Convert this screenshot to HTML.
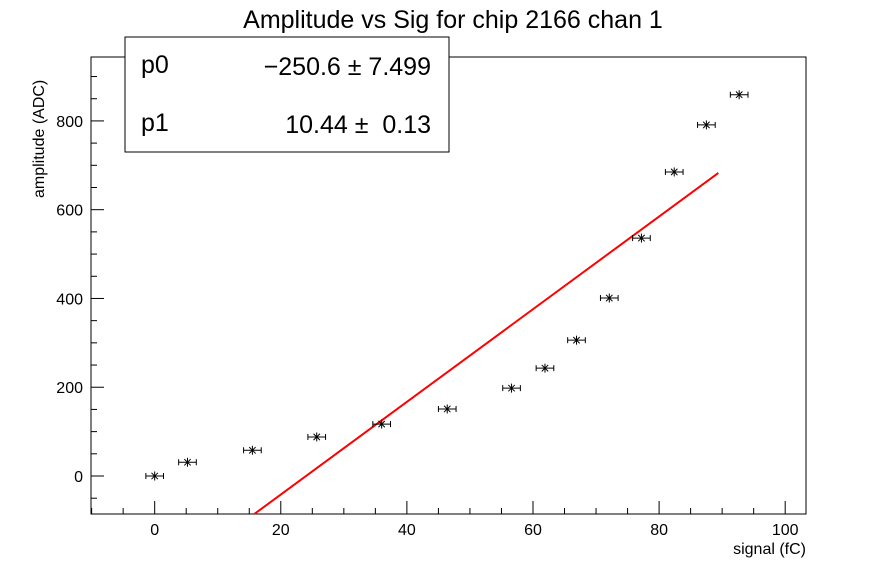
<!DOCTYPE html>
<html><head><meta charset="utf-8"><style>
body{margin:0;background:#fff;}
svg text{font-family:"Liberation Sans",Arial,sans-serif;}
</style></head><body>
<svg id="c" width="896" height="572" viewBox="0 0 896 572" xmlns="http://www.w3.org/2000/svg">
<rect width="896" height="572" fill="#fff"/>
<text x="453" y="28" font-size="25" text-anchor="middle">Amplitude vs Sig for chip 2166 chan 1</text>
<g id="axes"></g>
<g id="plot"></g>
<text x="806" y="554" font-size="16" text-anchor="end">signal (fC)</text>
<text transform="translate(44,198) rotate(-90)" font-size="16" text-anchor="start" x="0" y="0">amplitude (ADC)</text>
<g>
<rect x="125" y="37" width="324" height="115" fill="#fff" stroke="#000" stroke-width="1"/>
<text x="141" y="73" font-size="25">p0</text>
<text x="431" y="75" font-size="25" text-anchor="end">−250.6 ± 7.499</text>
<text x="141" y="131" font-size="25">p1</text>
<text x="431" y="133" font-size="25" text-anchor="end" xml:space="preserve">10.44 ±  0.13</text>
</g>
</svg>
<script>
const xs=[0,5.2,15.5,25.7,36,46.4,56.6,61.9,66.9,72.1,77.2,82.4,87.5,92.7];
const ys=[0,31,58,88,117,151,198,243,306,401,536,685,791,859];
const fitP=[-250.6,10.44];
const fitRange=[0,89.4];
const xTicks=[0,20,40,60,80,100];
const yTicks=[0,200,400,600,800];
const L=91,R=806,T=57,B=514,xmin=-10.1,xmax=103.3,ymin=-85.6,ymax=944;
const X=v=>L+(v-xmin)/(xmax-xmin)*(R-L);
const Y=v=>B-(v-ymin)/(ymax-ymin)*(B-T);
const NS="http://www.w3.org/2000/svg";
function mk(p,t,a){const e=document.createElementNS(NS,t);for(const k in a)e.setAttribute(k,a[k]);p.appendChild(e);return e;}
const ax=document.getElementById('axes'),pl=document.getElementById('plot');
const fr=mk(ax,'rect',{x:L,y:T,width:R-L,height:B-T,fill:'none',stroke:'#000','stroke-width':1});


for(let v=-10;v<=100;v+=5){const maj=v%20===0;mk(ax,'line',{x1:X(v),x2:X(v),y1:B,y2:B-(maj?13:6),stroke:'#000'});}
xTicks.forEach(v=>{const t=mk(ax,'text',{x:X(v),y:535,'font-size':16,'text-anchor':'middle'});t.textContent=v;

});
for(let v=-50;v<=900;v+=50){const maj=v%200===0;mk(ax,'line',{x1:L,x2:L+(maj?13:6),y1:Y(v),y2:Y(v),stroke:'#000'});}
yTicks.forEach(v=>{const t=mk(ax,'text',{x:83,y:Y(v)+6,'font-size':16,'text-anchor':'end'});t.textContent=v;

});
// fit line clipped to frame
let x0=Math.max(fitRange[0],(ymin-fitP[0])/fitP[1]),x1=fitRange[1];
const fl=mk(pl,'line',{x1:X(x0),y1:Y(fitP[0]+fitP[1]*x0),x2:X(x1),y2:Y(fitP[0]+fitP[1]*x1),stroke:'#f00','stroke-width':2});


xs.forEach((x,i)=>{const g=mk(pl,'g',{stroke:'#000','stroke-width':1});


const cx=X(x),cy=Y(ys[i]),s=4.5,d=3.2;
mk(g,'line',{x1:X(x-1.4),x2:X(x+1.4),y1:cy,y2:cy});
mk(g,'line',{x1:X(x-1.4),x2:X(x-1.4),y1:cy-3,y2:cy+3});
mk(g,'line',{x1:X(x+1.4),x2:X(x+1.4),y1:cy-3,y2:cy+3});
mk(g,'line',{x1:cx,x2:cx,y1:cy-s,y2:cy+s});
mk(g,'line',{x1:cx-d,x2:cx+d,y1:cy-d,y2:cy+d});
mk(g,'line',{x1:cx-d,x2:cx+d,y1:cy+d,y2:cy-d});});
</script>
</body></html>
